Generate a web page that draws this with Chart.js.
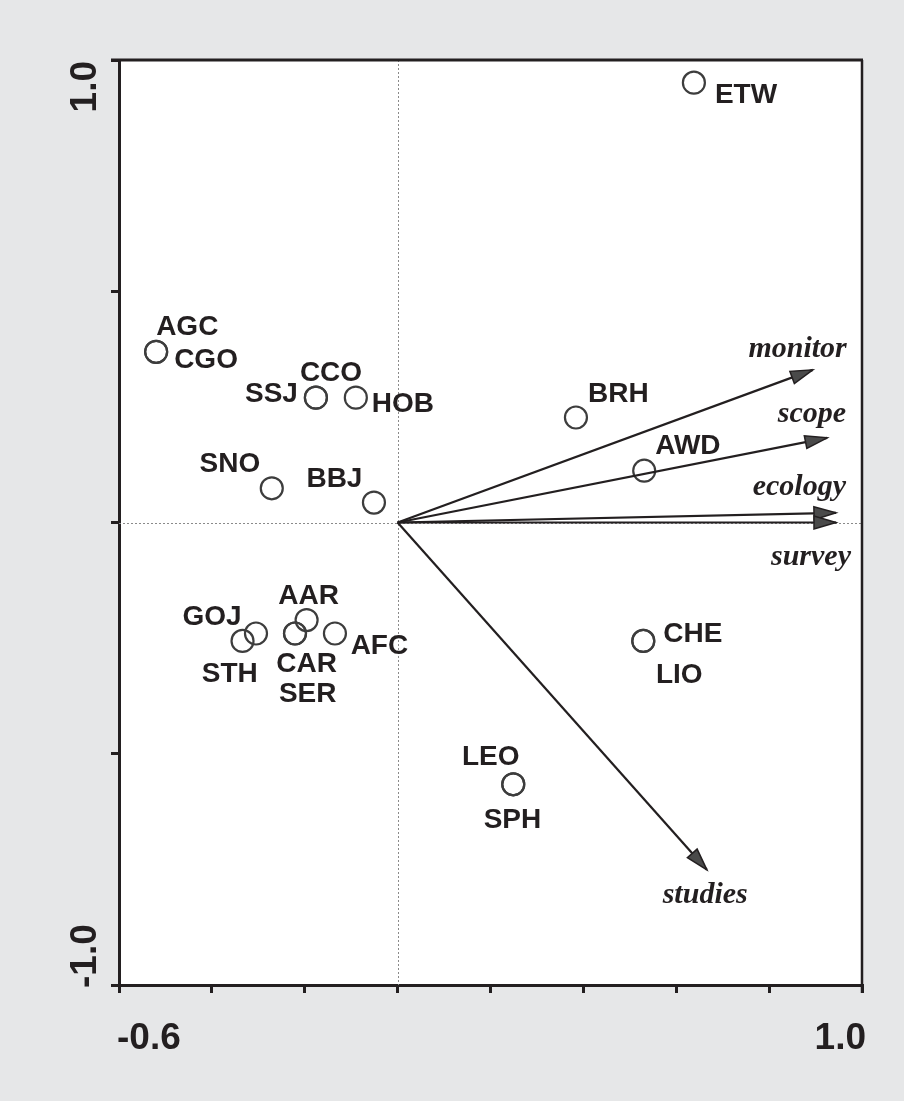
<!DOCTYPE html>
<html>
<head>
<meta charset="utf-8">
<script src="https://cdn.jsdelivr.net/npm/chart.js@4.4.1/dist/chart.umd.min.js"></script>
<style>
  html, body { margin: 0; padding: 0; background: #e6e7e8; }
  #wrap { width: 904px; height: 1101px; }
</style>
</head>
<body>
<div id="wrap"><canvas id="c" width="904" height="1101"></canvas></div>
<script>
// ---------------- DATA ----------------
const siteNames = ['ETW','AGC','CGO','CCO','SSJ','HOB','BRH','AWD','SNO','BBJ',
                   'AAR','GOJ','STH','CAR','SER','AFC','CHE','LIO','LEO','SPH'];
const siteX = [0.638, -0.520, -0.520, -0.176, -0.176, -0.090, 0.384, 0.531, -0.271, -0.051,
               -0.196, -0.305, -0.334, -0.221, -0.221, -0.135, 0.529, 0.529, 0.249, 0.249];
const siteY = [0.951, 0.369, 0.369, 0.270, 0.270, 0.270, 0.227, 0.112, 0.074, 0.043,
               -0.211, -0.240, -0.256, -0.240, -0.240, -0.240, -0.256, -0.256, -0.566, -0.566];

const varNames = ['monitor','scope','ecology','survey','studies'];
const varX = [0.894, 0.925, 0.944, 0.944, 0.666];
const varY = [0.330, 0.183, 0.021, 0.000, -0.751];

const xTickValues = [-0.6, -0.4, -0.2, 0, 0.2, 0.4, 0.6, 0.8, 1.0];
const xTickLabels = ['-0.6', '', '', '', '', '', '', '', '1.0'];
const yTickValues = [-1.0, -0.5, 0, 0.5, 1.0];
const yTickLabels = ['-1.0', '', '', '', '1.0'];

// ---------------- LABEL PLACEMENT (pixels relative to mark) ----------------
const siteLabelPlacement = {
  ETW: [21, 20, 'left'],   AGC: [0, -17, 'left'],    CGO: [18, 16, 'left'],
  CCO: [-16, -17, 'left'], SSJ: [-18, 4, 'right'],   HOB: [16, 14, 'left'],
  BRH: [12, -15.5, 'left'],AWD: [11, -16.5, 'left'], SNO: [-11.5, -16.5, 'right'],
  BBJ: [-11.5, -16, 'right'], AAR: [2, -16.5, 'center'], GOJ: [-14.3, -9, 'right'],
  STH: [-12.7, 40.7, 'center'], CAR: [11.7, 38.4, 'center'], SER: [12.7, 68.4, 'center'],
  AFC: [15.7, 20, 'left'], CHE: [20, 0.7, 'left'],  LIO: [12.7, 41.7, 'left'],
  LEO: [-22.5, -19.3, 'center'], SPH: [-0.8, 44, 'center']
};
const varLabelPlacement = {
  monitor: [34, -13.3, 'right'], scope: [19, -16, 'right'], ecology: [10, -18, 'right'],
  survey: [15, 42.3, 'right'], studies: [-1.7, 33.3, 'center']
};

const INK = '#231f20';

// ---------------- PLUGIN ----------------
const biplotPlugin = {
  id: 'biplot',
  beforeDraw(chart) {
    const { ctx, chartArea: a } = chart;
    ctx.save();
    ctx.fillStyle = '#e6e7e8';
    ctx.fillRect(0, 0, chart.width, chart.height);
    ctx.fillStyle = '#ffffff';
    ctx.fillRect(a.left, a.top, a.right - a.left, a.bottom - a.top);
    ctx.restore();
  },
  beforeDatasetsDraw(chart) {
    const { ctx, chartArea: a, scales: { x, y } } = chart;
    ctx.save();
    ctx.strokeStyle = '#8a8a8a';
    ctx.lineWidth = 1;
    ctx.setLineDash([2, 2]);
    const x0 = Math.round(x.getPixelForValue(0)) + 0.5;
    const y0 = Math.round(y.getPixelForValue(0)) + 0.5;
    ctx.beginPath();
    ctx.moveTo(x0, a.top); ctx.lineTo(x0, a.bottom);
    ctx.moveTo(a.left, y0); ctx.lineTo(a.right, y0);
    ctx.stroke();
    ctx.restore();
  },
  afterDatasetsDraw(chart) {
    const { ctx, chartArea: a, scales: { x, y } } = chart;
    ctx.save();
    // arrowheads
    const ox = x.getPixelForValue(0), oy = y.getPixelForValue(0);
    varNames.forEach((n, i) => {
      const tx = x.getPixelForValue(varX[i]), ty = y.getPixelForValue(varY[i]);
      const ang = Math.atan2(ty - oy, tx - ox);
      const L = 22, W = 6.5;
      const bx = tx - L * Math.cos(ang), by = ty - L * Math.sin(ang);
      ctx.beginPath();
      ctx.moveTo(tx, ty);
      ctx.lineTo(bx - W * Math.sin(ang), by + W * Math.cos(ang));
      ctx.lineTo(bx + W * Math.sin(ang), by - W * Math.cos(ang));
      ctx.closePath();
      ctx.fillStyle = '#4a4a4a';
      ctx.fill();
      ctx.lineWidth = 1.5;
      ctx.strokeStyle = INK;
      ctx.stroke();
    });
    // variable labels
    ctx.fillStyle = INK;
    ctx.textBaseline = 'alphabetic';
    ctx.font = 'italic bold 30px "Liberation Serif", "Times New Roman", serif';
    varNames.forEach((n, i) => {
      const p = varLabelPlacement[n];
      ctx.textAlign = p[2];
      ctx.fillText(n, x.getPixelForValue(varX[i]) + p[0], y.getPixelForValue(varY[i]) + p[1]);
    });
    // site labels
    ctx.font = 'bold 28px "Liberation Sans", Arial, sans-serif';
    siteNames.forEach((n, i) => {
      const p = siteLabelPlacement[n];
      ctx.textAlign = p[2];
      ctx.fillText(n, x.getPixelForValue(siteX[i]) + p[0], y.getPixelForValue(siteY[i]) + p[1]);
    });
    ctx.restore();
  },
  afterDraw(chart) {
    const { ctx, chartArea: a, scales: { x, y } } = chart;
    ctx.save();
    // top and right frame
    ctx.strokeStyle = INK;
    ctx.lineWidth = 3;
    ctx.beginPath();
    ctx.moveTo(a.left - 8, a.top); ctx.lineTo(a.right + 1, a.top);
    ctx.stroke();
    ctx.lineWidth = 2.5;
    ctx.beginPath();
    ctx.moveTo(a.right, a.top); ctx.lineTo(a.right, a.bottom + 8);
    ctx.stroke();
    // tick labels
    ctx.fillStyle = INK;
    ctx.font = 'bold 37px "Liberation Sans", Arial, sans-serif';
    ctx.textBaseline = 'alphabetic';
    const nx = xTickValues.length;
    xTickValues.forEach((v, i) => {
      const t = xTickLabels[i];
      if (!t) return;
      const px = x.getPixelForValue(v);
      if (i === 0) { ctx.textAlign = 'left'; ctx.fillText(t, px - 2, a.bottom + 63.5); }
      else if (i === nx - 1) { ctx.textAlign = 'right'; ctx.fillText(t, px + 4, a.bottom + 63.5); }
      else { ctx.textAlign = 'center'; ctx.fillText(t, px, a.bottom + 63.5); }
    });
    const ny = yTickValues.length;
    yTickValues.forEach((v, i) => {
      const t = yTickLabels[i];
      if (!t) return;
      const py = y.getPixelForValue(v);
      ctx.save();
      ctx.translate(a.left - 23, py);
      ctx.rotate(-Math.PI / 2);
      if (i === 0) { ctx.textAlign = 'left'; ctx.fillText(t, -3, 0); }
      else if (i === ny - 1) { ctx.textAlign = 'right'; ctx.fillText(t, -1, 0); }
      else { ctx.textAlign = 'center'; ctx.fillText(t, 0, 0); }
      ctx.restore();
    });
    ctx.restore();
  }
};

// ---------------- CHART ----------------
const arrowDatasets = varNames.map((n, i) => ({
  type: 'scatter',
  label: n,
  data: [{ x: 0, y: 0 }, { x: varX[i], y: varY[i] }],
  showLine: true,
  borderColor: INK,
  borderWidth: 2.2,
  pointRadius: 0,
  pointHoverRadius: 0,
  fill: false
}));

const siteDataset = {
  type: 'scatter',
  label: 'sites',
  data: siteNames.map((n, i) => ({ x: siteX[i], y: siteY[i] })),
  pointRadius: 11,
  pointBorderWidth: 2.2,
  pointBorderColor: '#3d3d3d',
  pointBackgroundColor: 'rgba(0,0,0,0)',
  showLine: false
};

const axisCommon = {
  display: true,
  grid: { display: true, drawOnChartArea: false, drawTicks: true, tickLength: 8, lineWidth: 3, color: INK },
  border: { display: true, color: INK, width: 3 },
  ticks: { display: false }
};

new Chart(document.getElementById('c'), {
  type: 'scatter',
  data: { datasets: [...arrowDatasets, siteDataset] },
  options: {
    responsive: false,
    animation: false,
    devicePixelRatio: 1,
    layout: { padding: { left: 111, top: 60, right: 42, bottom: 108 } },
    plugins: { legend: { display: false }, tooltip: { enabled: false } },
    events: [],
    scales: {
      x: Object.assign({}, axisCommon, {
        type: 'linear', position: 'bottom', min: -0.6, max: 1.0,
        afterBuildTicks: s => { s.ticks = xTickValues.map(v => ({ value: v })); }
      }),
      y: Object.assign({}, axisCommon, {
        type: 'linear', position: 'left', min: -1.0, max: 1.0,
        afterBuildTicks: s => { s.ticks = yTickValues.map(v => ({ value: v })); }
      })
    }
  },
  plugins: [biplotPlugin]
});
</script>
</body>
</html>
